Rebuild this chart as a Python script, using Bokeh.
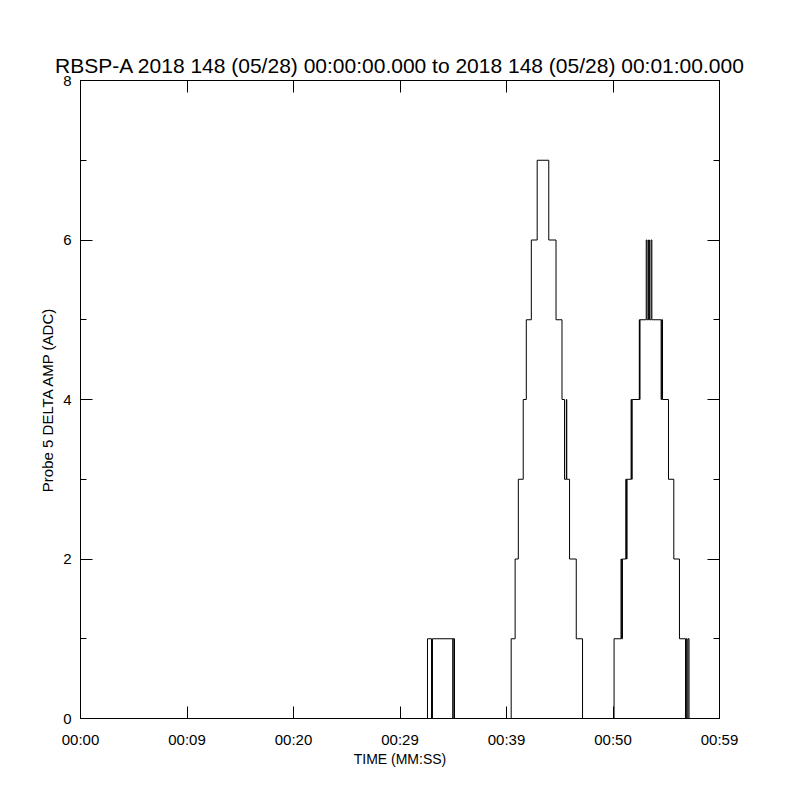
from bokeh.plotting import figure
from bokeh.models import FixedTicker, LinearAxis, Range1d
from bokeh.embed import file_html
from bokeh.resources import INLINE

# Level-change times (seconds after 00:00:00) and the level held after each change
time_s = [0.0,
          # small pulse near 00:33
          32.58, 32.96, 33.05, 34.96, 34.99, 35.12,
          # first peak
          40.44, 40.81, 41.11, 41.57, 41.86, 42.33, 42.88,
          43.97, 44.65, 45.21, 45.45, 45.62, 45.66, 45.92, 46.55, 47.14,
          # second peak
          50.10, 50.75, 50.81, 50.89, 51.20, 51.27, 51.32, 51.70, 51.75, 51.80,
          52.47, 52.50, 52.53,
          53.12, 53.20, 53.34, 53.42, 53.57, 53.65,
          54.52, 54.57, 54.65, 55.21, 55.71, 56.24,
          56.81, 56.88, 56.95, 57.04, 57.14,
          60.0]
level = [0,
         1, 0, 1, 0, 1, 0,
         1, 2, 3, 4, 5, 6, 7,
         6, 5, 4, 3, 4, 3, 2, 1, 0,
         1, 2, 1, 2, 3, 2, 3, 4, 3, 4,
         5, 4, 5,
         6, 5, 6, 5, 6, 5,
         4, 5, 4, 3, 2, 1,
         0, 1, 0, 1, 0,
         0]

x_ticks = [0, 10, 20, 30, 40, 50, 60]
x_tick_labels = ["00:00", "00:09", "00:20", "00:29", "00:39", "00:50", "00:59"]
y_major = [0, 2, 4, 6, 8]
y_minor = [1, 3, 5, 7]

title_text = "RBSP-A 2018 148 (05/28) 00:00:00.000 to 2018 148 (05/28) 00:01:00.000"
FONT = "Liberation Sans"

p = figure(width=790, height=790, output_backend="svg", toolbar_location=None,
           x_range=Range1d(0, 60), y_range=Range1d(0, 8),
           min_border_left=80, min_border_right=71, min_border_top=80, min_border_bottom=72,
           x_axis_location=None, y_axis_location=None)
p.grid.visible = False
p.outline_line_color = "black"
p.outline_line_width = 1
p.background_fill_color = "white"
p.border_fill_color = "white"

p.title.text = title_text
p.title.align = "center"
p.title.text_font = FONT
p.title.text_font_size = "21px"
p.title.text_font_style = "normal"
p.title.text_color = "black"
p.title.standoff = 7

p.step(time_s, level, mode="after", line_color="black", line_width=1)


def styled(axis, labels=True):
    axis.axis_line_color = "black"
    axis.major_tick_line_color = "black"
    axis.minor_tick_line_color = "black"
    axis.major_tick_out = 0
    axis.minor_tick_out = 0
    axis.major_tick_in = 12
    axis.minor_tick_in = 6
    axis.major_label_text_font = FONT
    axis.major_label_text_font_size = "15px"
    axis.major_label_text_color = "black"
    axis.axis_label_text_font = FONT
    axis.axis_label_text_font_style = "normal"
    axis.axis_label_text_font_size = "14px"
    axis.axis_label_text_color = "black"
    if not labels:
        axis.major_label_text_alpha = 0
        axis.major_label_text_font_size = "1px"
        axis.major_label_standoff = 0
    return axis


bottom = styled(LinearAxis(ticker=FixedTicker(ticks=x_ticks)))
bottom.major_label_overrides = {t: s for t, s in zip(x_ticks, x_tick_labels)}
bottom.major_label_standoff = 12
bottom.axis_label = "TIME (MM:SS)"
bottom.axis_label_standoff = 0
p.add_layout(bottom, "below")

top = styled(LinearAxis(ticker=FixedTicker(ticks=x_ticks)), labels=False)
p.add_layout(top, "above")

left = styled(LinearAxis(ticker=FixedTicker(ticks=y_major, minor_ticks=y_minor)))
left.major_label_standoff = 9
left.axis_label = "Probe 5 DELTA AMP (ADC)"
left.axis_label_text_font_size = "15px"
left.axis_label_standoff = 4
p.add_layout(left, "left")

right = styled(LinearAxis(ticker=FixedTicker(ticks=y_major, minor_ticks=y_minor)), labels=False)
p.add_layout(right, "right")

open("out.html", "w").write(file_html(p, INLINE))
